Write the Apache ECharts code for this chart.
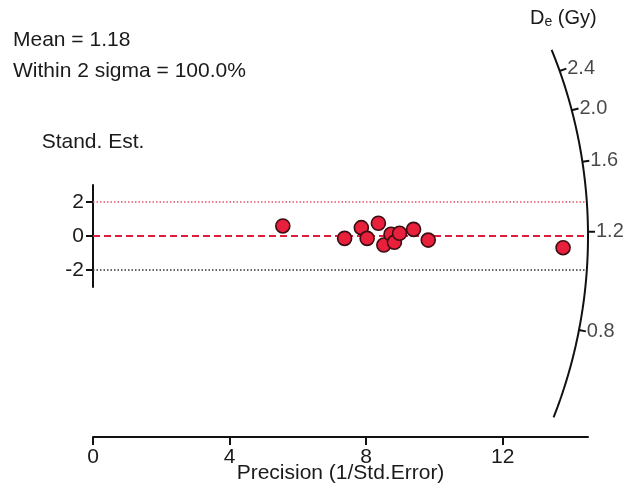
<!DOCTYPE html>
<html>
<head>
<meta charset="utf-8">
<script src="https://cdn.jsdelivr.net/npm/echarts@6/dist/echarts.min.js"></script>
<style>
html,body{margin:0;padding:0;background:#fff;}
#chart{width:627px;height:491px;}
</style>
</head>
<body>
<div id="chart"></div>
<script>
// ---- data ----
const precision = [5.56, 7.37, 7.86, 8.03, 8.36, 8.52, 8.73, 8.83, 8.98, 9.39, 9.82, 13.77];
const standEst  = [0.59, -0.14, 0.49, -0.14, 0.75, -0.53, 0.10, -0.37, 0.16, 0.39, -0.24, -0.69];
const xTicks = [0, 4, 8, 12];
const yTicks = [-2, 0, 2];
const deTicks = [0.8, 1.2, 1.6, 2.0, 2.4];
const meanDe = 1.18;
const refLevels = [2, 0, -2];
const infoLines = ['Mean = 1.18', 'Within 2 sigma = 100.0%'];

// ---- layout ----
const FONT = "'Liberation Sans', Arial, sans-serif";
const G = {left: 93, top: 40, width: 495, height: 397};
const zeroY = 236;
const xMax = 14.5;
const pxPerX = G.width / xMax;
const pxPerY = 17;
const yMax = (zeroY - G.top) / pxPerY;
const yMin = -(G.top + G.height - zeroY) / pxPerY;
const R = 495; // arc radius in pixels
const thTop = 22.1 * Math.PI / 180, thBot = -21.5 * Math.PI / 180;

function polar(rPx, th) { return [rPx * Math.cos(th) / pxPerX, rPx * Math.sin(th) / pxPerY]; }

const arc = [];
for (let i = 0; i <= 200; i++) {
  const th = thBot + (thTop - thBot) * i / 200;
  arc.push(polar(R, th));
}
const tickData = [], tickLab = [];
deTicks.forEach(v => {
  const slope = Math.log(v / meanDe) * pxPerY / pxPerX;
  const th = Math.atan(slope);
  const a = polar(R, th), b = polar(R + 7, th);
  tickData.push([a[0], a[1], b[0], b[1]]);
  tickLab.push({value: polar(R + 8, th), name: v.toFixed(1)});
});
function arcX(yData) {
  const dy = yData * pxPerY;
  return Math.sqrt(R * R - dy * dy) / pxPerX;
}
const refStyles = {
  '2': {color: '#e2566a', width: 1.5, type: [1.5, 2]},
  '0': {color: '#e01e3c', width: 2, type: [7, 4]},
  '-2': {color: '#333333', width: 1.5, type: [1.5, 2]}
};
const refSeries = refLevels.map(l => ({
  type: 'line', xAxisIndex: 0, yAxisIndex: 0, symbol: 'none', silent: true, clip: false,
  data: [[0, l], [arcX(l), l]], lineStyle: refStyles[String(l)], z: 2
}));

const chart = echarts.init(document.getElementById('chart'));
chart.setOption({
  animation: false,
  backgroundColor: '#ffffff',
  textStyle: {fontFamily: FONT},
  grid: [
    {left: G.left, top: G.top, width: G.width, height: G.height, outerBoundsMode: 'none', containLabel: false},
    {left: G.left, top: 185, width: G.width, height: 102, outerBoundsMode: 'none', containLabel: false}
  ],
  xAxis: [
    {gridIndex: 0, type: 'value', min: 0, max: xMax,
     axisLine: {show: true, onZero: false, lineStyle: {color: '#111', width: 2}},
     axisTick: {show: true, inside: false, length: 8, customValues: xTicks, lineStyle: {color: '#111', width: 2}},
     axisLabel: {show: true, customValues: xTicks, margin: 10, color: '#1a1a1a', fontSize: 21, fontFamily: FONT},
     splitLine: {show: false},
     name: 'Precision (1/Std.Error)', nameLocation: 'middle', nameGap: 26, nameMoveOverlap: false,
     nameTextStyle: {color: '#1a1a1a', fontSize: 21, fontFamily: FONT}},
    {gridIndex: 1, type: 'value', min: 0, max: xMax, show: false}
  ],
  yAxis: [
    {gridIndex: 0, type: 'value', min: yMin, max: yMax, show: false},
    {gridIndex: 1, type: 'value', min: -3, max: 3,
     axisLine: {show: true, onZero: false, lineStyle: {color: '#111', width: 2}},
     axisTick: {show: true, length: 7, customValues: yTicks, lineStyle: {color: '#111', width: 2}},
     axisLabel: {show: true, customValues: yTicks, margin: 9, color: '#1a1a1a', fontSize: 21, fontFamily: FONT},
     splitLine: {show: false},
     name: 'Stand. Est.', nameLocation: 'end', nameGap: 32,
     nameTextStyle: {color: '#1a1a1a', fontSize: 21, fontFamily: FONT, align: 'center'}}
  ],
  graphic: [
    {type: 'text', left: 13, top: 30, style: {text: infoLines[0], fill: '#1a1a1a', font: '21px ' + FONT}},
    {type: 'text', left: 13, top: 61, style: {text: infoLines[1], fill: '#1a1a1a', font: '21px ' + FONT}},
    {type: 'text', left: 530, top: 8, style: {
      text: '{a|D}{s|e}{a| (Gy)}',
      rich: {a: {fontSize: 20, fontFamily: FONT, fill: '#1a1a1a'},
             s: {fontSize: 14, fontFamily: FONT, fill: '#1a1a1a', padding: [8, 0, 0, 0]}}
    }}
  ],
  series: [
    ...refSeries,
    {type: 'line', xAxisIndex: 0, yAxisIndex: 0, symbol: 'none', silent: true, clip: false, data: arc,
     lineStyle: {color: '#111', width: 2}, z: 3},
    {type: 'custom', xAxisIndex: 0, yAxisIndex: 0, silent: true, clip: false, z: 4,
     data: tickData,
     encode: {x: [0, 2], y: [1, 3]},
     renderItem: (params, api) => {
       const p0 = api.coord([api.value(0), api.value(1)]);
       const p1 = api.coord([api.value(2), api.value(3)]);
       return {type: 'line', shape: {x1: p0[0], y1: p0[1], x2: p1[0], y2: p1[1]},
               style: {stroke: '#111', lineWidth: 2}};
     }},
    {type: 'scatter', xAxisIndex: 0, yAxisIndex: 0, symbolSize: 0, silent: true, clip: false, data: tickLab,
     label: {show: true, position: 'right', distance: 0, formatter: p => p.name,
             color: '#1a1a1a', fontSize: 20, fontFamily: FONT}},
    {type: 'scatter', xAxisIndex: 0, yAxisIndex: 0, symbol: 'circle', symbolSize: 14, z: 5, clip: false,
     data: precision.map((x, i) => [x, standEst[i]]),
     itemStyle: {color: '#e8203c', borderColor: '#3a0d12', borderWidth: 1.6, opacity: 1}}
  ]
});
</script>
</body>
</html>
